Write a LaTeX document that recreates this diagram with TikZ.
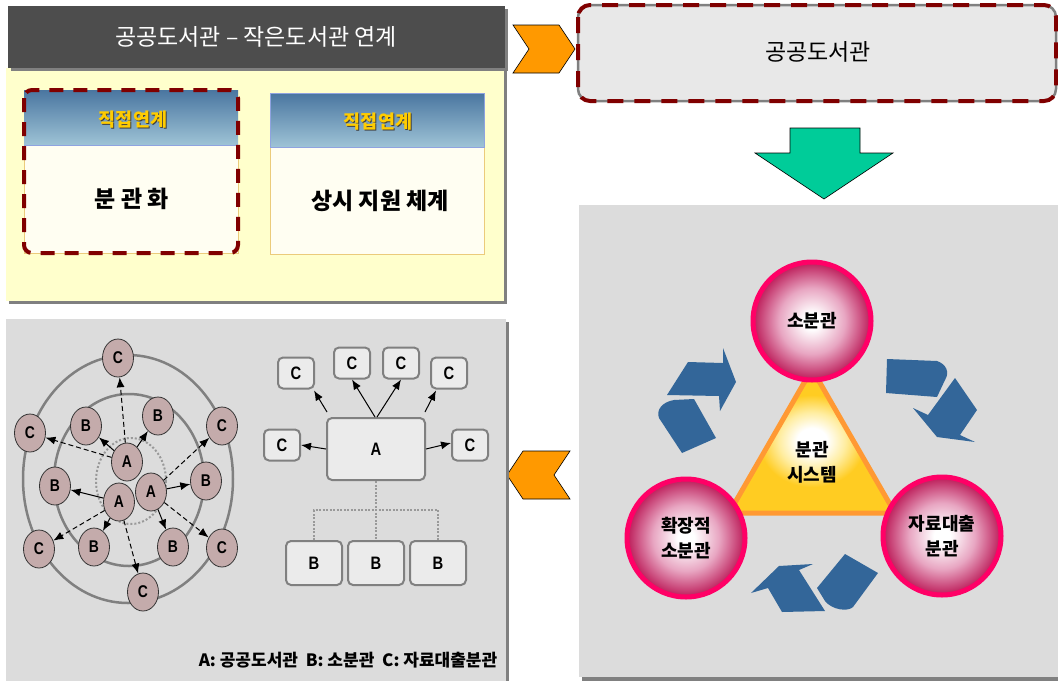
\documentclass[tikz,border=0pt]{standalone}
\usepackage{fontspec}
\setmainfont{Noto Sans CJK KR}
\newfontfamily\narrowfont[FakeStretch=0.82]{Liberation Sans}
\usetikzlibrary{arrows.meta,shapes.geometric,calc}
\definecolor{shd}{HTML}{808080}
\definecolor{ybg}{HTML}{FFFFCC}
\definecolor{hdr}{HTML}{4D4D4D}
\definecolor{cream}{HTML}{FFFEF2}
\definecolor{headtop}{HTML}{4A76A0}
\definecolor{headbot}{HTML}{9EC3D6}
\definecolor{headln}{HTML}{8FA3E0}
\definecolor{bodyln}{HTML}{EBCB7B}
\definecolor{gold}{HTML}{FFCC00}
\definecolor{dred}{HTML}{800000}
\definecolor{panel}{HTML}{DCDCDC}
\definecolor{boxgrey}{HTML}{E8E8E8}
\definecolor{boxgrey2}{HTML}{EBEBEB}
\definecolor{orng}{HTML}{FF9900}
\definecolor{grn}{HTML}{00CC99}
\definecolor{blu}{HTML}{336699}
\definecolor{pinkring}{HTML}{FF0066}
\definecolor{ballc}{HTML}{C02862}
\definecolor{ballm}{HTML}{E8A6C2}
\definecolor{trior}{HTML}{FF9933}
\definecolor{triy}{HTML}{FFCC22}
\definecolor{trim}{HTML}{FFEDA0}
\definecolor{nodefill}{HTML}{C4ABAB}
\pgfdeclareradialshading{ball}{\pgfpoint{0bp}{0bp}}{color(0bp)=(white); color(3.5bp)=(white); color(14bp)=(ballm); color(24bp)=(ballc); color(100bp)=(ballc)}
\pgfdeclareradialshading{tri}{\pgfpoint{0bp}{0bp}}{color(0bp)=(white); color(4.5bp)=(white); color(10bp)=(trim); color(16bp)=(triy); color(100bp)=(triy)}
\tikzset{
 ttl/.style={font=\fontsize{23pt}{27pt}\selectfont, text=white},
 gtxt/.style={font=\bfseries\fontsize{18.5pt}{20pt}\selectfont, text=gold},
 gshd/.style={font=\bfseries\fontsize{18.5pt}{20pt}\selectfont, text=black!75},
 btxt/.style={font=\bfseries\fontsize{23pt}{27pt}\selectfont},
 ball/.style={circle, minimum size=118pt, inner sep=0pt, draw=pinkring, line width=5pt, shading=ball, align=center, font=\bfseries\fontsize{18pt}{25pt}\selectfont},
 cnode/.style={ellipse, minimum width=31pt, minimum height=38pt, inner sep=0pt, fill=nodefill, draw=black!80, line width=0.8pt, font=\narrowfont\bfseries\fontsize{17pt}{17pt}\selectfont},
 tbox/.style={rectangle, rounded corners=5pt, fill=boxgrey2, draw=shd, line width=2pt, inner sep=0pt, font=\narrowfont\bfseries\fontsize{18pt}{18pt}\selectfont},
 sarr/.style={-{Latex[length=10pt,width=8pt]}, line width=1pt},
 darr/.style={sarr, dash pattern=on 5pt off 3pt},
 dotl/.style={draw=black!40, line width=2.5pt, dash pattern=on 2pt off 1.5pt},
 redash/.style={draw=dred, line width=4pt, dash pattern=on 14pt off 10pt},
 bluefill/.style={fill=blu},
 chev/.style={fill=orng, draw=black, line width=0.6pt}
}
\begin{document}
\begin{tikzpicture}[x=1pt,y=-1pt]
\useasboundingbox (0,0) rectangle (1058,681);
% ---------- top-left panel ----------
\fill[shd] (9,71) rectangle (507,304);
\fill[ybg] (6,68) rectangle (504,301);
\fill[shd] (11,9) rectangle (508,71);
\fill[hdr] (8,6) rectangle (505,68);
\node[ttl] (title) at (256,37) {공공도서관 – 작은도서관 연계};
% box 1
\draw[fill=cream, draw=bodyln, line width=1pt] (24,145) rectangle (238,253);
\shade[top color=headtop, bottom color=headbot] (24,90) rectangle (238,145);
\draw[headln, line width=1pt] (24,145) -- (238,145);
\node[gshd] (g1s) at (134,121) {직접연계};
\node[gtxt] (g1) at (133,120) {직접연계};
\node[btxt] (bk) at (132,199) {분 관 화};
\draw[redash, rounded corners=8pt] (24,90) rectangle (238,253);
% box 2
\draw[fill=cream, draw=bodyln, line width=1pt] (270,147) rectangle (484,254);
\shade[top color=headtop, bottom color=headbot] (270,93) rectangle (484,147);
\draw[headln, line width=1pt] (270,147) -- (270,93) -- (484,93) -- (484,147) -- cycle;
\node[gshd] (g2s) at (379,123) {직접연계};
\node[gtxt] (g2) at (378,122) {직접연계};
\node[btxt] (sj) at (380,201) {상시 지원 체계};
% ---------- orange chevron right ----------
\filldraw[chev] (513,25) -- (559,25) -- (575,49) -- (559,73) -- (513,73) -- (529,49) -- cycle;
% ---------- top right box ----------
\draw[fill=boxgrey, draw=shd, line width=2.5pt, rounded corners=12pt] (578,5) rectangle (1056,101);
\draw[draw=dred, line width=4pt, dash pattern=on 16pt off 11pt, rounded corners=12pt] (578,5) rectangle (1056,101);
\node[font=\fontsize{23pt}{27pt}\selectfont] (pl) at (818,52) {공공도서관};
% ---------- green arrow ----------
\filldraw[fill=grn, draw=black, line width=0.6pt] (790,128) -- (860,128) -- (860,153) -- (893,153) -- (824,199) -- (755,153) -- (790,153) -- cycle;
% ---------- right panel ----------
\fill[shd] (582,677) rectangle (1058,681);
\fill[panel] (579,205) rectangle (1058,677);
% blue recycle arrows
\fill[bluefill] (667,395) -- (688,362) -- (723,363) -- (723,348) -- (736,382) -- (720,411) -- (719,396) -- cycle;
\fill[bluefill] (682,453) -- (659,418) .. controls (656,410) and (662,402) .. (674,400) -- (694,399) -- (716,438) -- cycle;
\fill[bluefill] (887,359) -- (937,361) .. controls (946,364) and (950,372) .. (945,380) -- (937,397) -- (886,393) -- cycle;
\fill[bluefill] (913,408) -- (928,415) -- (955,378) -- (977,410) -- (960,435) -- (975,442) -- (937,437) -- cycle;
\fill[bluefill] (845,554) -- (878,573) -- (853,607) .. controls (848,612) and (832,610) .. (825,601) -- (817,588) -- cycle;
\fill[bluefill] (751,593) -- (779,566) -- (813,564) -- (799,570) -- (825,611) -- (782,612) -- (768,588) -- cycle;
% triangle
\draw[shading=tri, draw=trior, line width=5pt, line join=miter] (812,369) -- (895,513) -- (729,513) -- cycle;
\node[align=center, font=\bfseries\fontsize{18pt}{25pt}\selectfont] (sys) at (812,462) {분관\\시스템};
% circles
\node[ball] (sb) at (812,321) {소분관};
\node[ball] (hj) at (686,538) {확장적\\소분관};
\node[ball] (jr) at (942,536) {자료대출\\분관};
% ---------- orange chevron left ----------
\filldraw[chev] (570,451) -- (523,451) -- (507,475) -- (523,499) -- (570,499) -- (554,475) -- cycle;
% ---------- bottom-left panel ----------
\fill[shd] (506,322) rectangle (509,681);
\fill[panel] (6,319) rectangle (506,681);
% concentric rings
\draw[shd, line width=2.5pt] (128,479) ellipse [x radius=105, y radius=124];
\draw[shd, line width=2.5pt] (129,480) ellipse [x radius=75, y radius=86];
\draw[black!40, line width=2pt, dash pattern=on 2pt off 2pt] (131,481) ellipse [x radius=35, y radius=43];
% cluster nodes
\node[cnode] (A1) at (127,462) {A};
\node[cnode] (A2) at (119,502) {A};
\node[cnode] (A3) at (151,492) {A};
\node[cnode] (B1) at (86,426) {B};
\node[cnode] (B2) at (158,416) {B};
\node[cnode] (B3) at (55,486) {B};
\node[cnode] (B4) at (206,481) {B};
\node[cnode] (B5) at (94,547) {B};
\node[cnode] (B6) at (173,547) {B};
\node[cnode] (C1) at (118,358) {C};
\node[cnode] (C2) at (30,433) {C};
\node[cnode] (C3) at (222,426) {C};
\node[cnode] (C4) at (39,549) {C};
\node[cnode] (C5) at (222,548) {C};
\node[cnode] (C6) at (143,592) {C};
\draw[sarr] (A1) -- (B1);
\draw[sarr] (A1) -- (B2);
\draw[darr] (A1) -- (C1);
\draw[darr] (A1) -- (C2);
\draw[sarr] (A2) -- (B3);
\draw[sarr] (A2) -- (B5);
\draw[darr] (A2) -- (C4);
\draw[darr] (A2) -- (C6);
\draw[sarr] (A3) -- (B4);
\draw[sarr] (A3) -- (B6);
\draw[darr] (A3) -- (C3);
\draw[darr] (A3) -- (C5);
% ---------- tree ----------
\node[tbox, minimum width=98pt, minimum height=62pt] (TA) at (376,449) {A};
\node[tbox, minimum width=36pt, minimum height=31pt] (TC1) at (296,373) {C};
\node[tbox, minimum width=36pt, minimum height=31pt] (TC2) at (352,363) {C};
\node[tbox, minimum width=36pt, minimum height=31pt] (TC3) at (401,363) {C};
\node[tbox, minimum width=36pt, minimum height=31pt] (TC4) at (449,373) {C};
\node[tbox, minimum width=36pt, minimum height=31pt] (TC5) at (282,445) {C};
\node[tbox, minimum width=36pt, minimum height=31pt] (TC6) at (470,445) {C};
\node[tbox, minimum width=56pt, minimum height=44pt] (TB1) at (314,563) {B};
\node[tbox, minimum width=56pt, minimum height=44pt] (TB2) at (376,563) {B};
\node[tbox, minimum width=56pt, minimum height=44pt] (TB3) at (438,563) {B};
\draw[sarr] ($(TA.north west)+(1,-5)$) -- ($(TC1.south east)+(-1,1)$);
\draw[sarr] ($(TA.north)+(-1,0)$) -- (TC2.south);
\draw[sarr] ($(TA.north)+(1,0)$) -- (TC3.south);
\draw[sarr] ($(TA.north east)+(-1,-5)$) -- ($(TC4.south west)+(6,1)$);
\draw[sarr] (TA.west) -- (TC5.east);
\draw[sarr] (TA.east) -- ($(TC6.west)+(0,-2)$);
\coordinate (tj) at (376,510);
\draw[dotl] (TA.south) -- (TB2.north);
\draw[dotl] (TB1.north) |- (tj) -| (TB3.north);
% legend
\node[font=\bfseries\fontsize{17pt}{20pt}\selectfont] (lg) at (348,660) {A: 공공도서관\ \ B: 소분관\ \ C: 자료대출분관};
\end{tikzpicture}
\end{document}
